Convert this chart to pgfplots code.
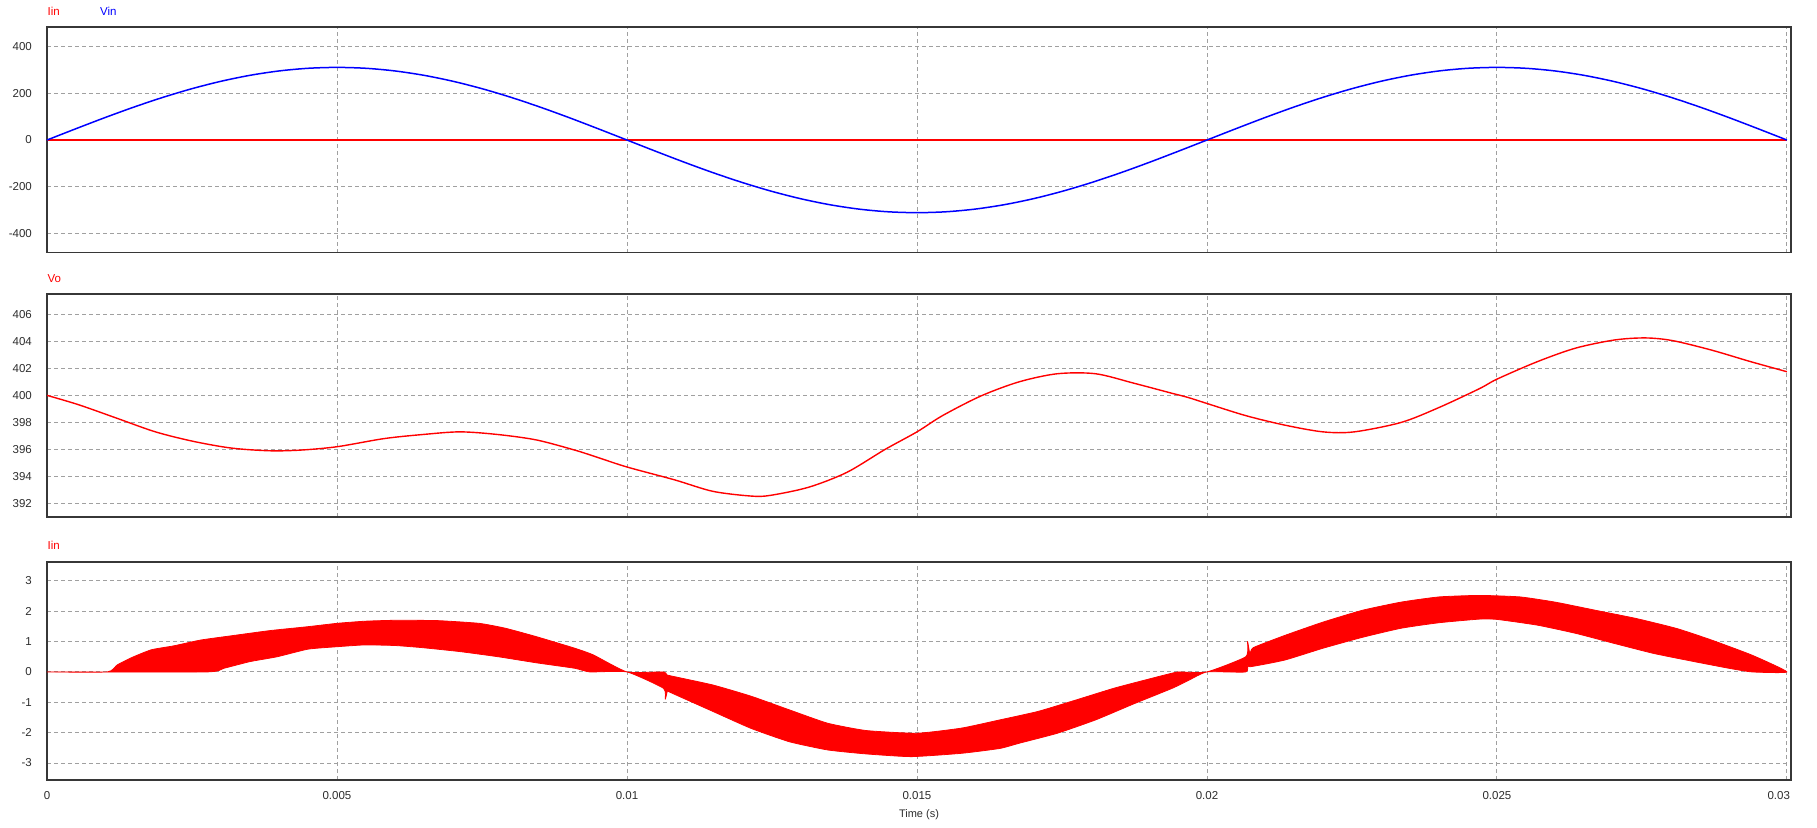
\documentclass[border=0pt]{standalone}
\usepackage{fontspec}
\setmainfont{Liberation Sans}
\usepackage{pgfplots}
\pgfplotsset{compat=1.18}

\definecolor{gridgray}{RGB}{160,160,160}
\definecolor{framegray}{RGB}{55,55,55}
\definecolor{labelgray}{RGB}{45,45,45}
\definecolor{sigred}{RGB}{255,0,0}
\definecolor{sigblue}{RGB}{0,0,255}

\pgfplotsset{
  panel/.style={
    scale only axis,
    width=1744pt,
    anchor=north west,
    xmin=0, xmax=0.03007,
    xtick={0,0.005,0.01,0.015,0.02,0.025,0.03},
    xticklabels={},
    grid=major,
    major grid style={gridgray, line width=0.9pt, dash pattern=on 4pt off 3pt},
    major tick length=0pt,
    axis line style={framegray, line width=1.5pt},
    tick label style={font=\fontsize{11.5}{13}\selectfont, text=labelgray},
    yticklabel style={anchor=east, inner sep=0pt, xshift=-15pt},
    xticklabel style={anchor=north, inner sep=0pt, yshift=-11.5pt},
    /pgf/number format/assume math mode=true,
    scaled ticks=false,
  },
}
\tikzset{ptitle/.style={anchor=west, inner sep=0pt, font=\fontsize{11.5}{13}\selectfont}}

\begin{document}
\begin{tikzpicture}
\useasboundingbox (0,0) rectangle (1817pt,-827pt);

% ---- top panel: Iin and Vin
\node[ptitle, text=sigred] at (47.5pt,-11.7pt) {Iin};
\node[ptitle, text=sigblue] at (100pt,-11.7pt) {Vin};
\begin{axis}[panel, at={(47pt,-27pt)}, height=225.6pt,
  ymin=-482, ymax=484, ytick={-400,-200,0,200,400}]
\addplot[sigred, line width=1.4pt] coordinates {(0,0) (0.03,0)};
\addplot[sigblue, line width=1.5pt, smooth] coordinates {
(0,0) (0.0005,48.6) (0.001,96.1) (0.0015,141.2) (0.002,182.8) (0.0025,219.9)
(0.003,251.6) (0.0035,277.1) (0.004,295.8) (0.0045,307.2) (0.005,311)
(0.0055,307.2) (0.006,295.8) (0.0065,277.1) (0.007,251.6) (0.0075,219.9)
(0.008,182.8) (0.0085,141.2) (0.009,96.1) (0.0095,48.6) (0.01,0)
(0.0105,-48.6) (0.011,-96.1) (0.0115,-141.2) (0.012,-182.8) (0.0125,-219.9)
(0.013,-251.6) (0.0135,-277.1) (0.014,-295.8) (0.0145,-307.2) (0.015,-311)
(0.0155,-307.2) (0.016,-295.8) (0.0165,-277.1) (0.017,-251.6) (0.0175,-219.9)
(0.018,-182.8) (0.0185,-141.2) (0.019,-96.1) (0.0195,-48.6) (0.02,0)
(0.0205,48.6) (0.021,96.1) (0.0215,141.2) (0.022,182.8) (0.0225,219.9)
(0.023,251.6) (0.0235,277.1) (0.024,295.8) (0.0245,307.2) (0.025,311)
(0.0255,307.2) (0.026,295.8) (0.0265,277.1) (0.027,251.6) (0.0275,219.9)
(0.028,182.8) (0.0285,141.2) (0.029,96.1) (0.0295,48.6) (0.03,0)};
\end{axis}

% ---- middle panel: Vo
\node[ptitle, text=sigred] at (47.5pt,-278.3pt) {Vo};
\begin{axis}[panel, at={(47pt,-294pt)}, height=223pt,
  ymin=391, ymax=407.5, ytick={392,394,396,398,400,402,404,406}]
\addplot[sigred, line width=1.4pt, smooth, tension=0.5] coordinates {
(0,400.0) (0.00055,399.3) (0.00121,398.3) (0.00187,397.3) (0.00252,396.6)
(0.00318,396.1) (0.00384,395.9) (0.00437,395.95) (0.005,396.2) (0.00581,396.8)
(0.00647,397.1) (0.00712,397.3) (0.00778,397.1) (0.00844,396.7) (0.0091,395.95)
(0.0095,395.4) (0.01,394.7) (0.01082,393.75) (0.01148,392.9) (0.01214,392.55)
(0.01247,392.6) (0.01313,393.2) (0.01379,394.3) (0.01445,396.0) (0.015,397.3)
(0.01544,398.5) (0.0161,399.95) (0.01676,401.0) (0.01742,401.6) (0.01808,401.6)
(0.01874,400.9) (0.0194,400.15) (0.01967,399.85) (0.02,399.4) (0.02067,398.5)
(0.02134,397.8) (0.022,397.3) (0.02254,397.3) (0.02335,398.0) (0.024,399.1)
(0.0247,400.5) (0.025,401.2) (0.0257,402.5) (0.02636,403.5) (0.02703,404.1)
(0.02756,404.25) (0.02803,404.05) (0.0287,403.35) (0.02937,402.5) (0.03,401.75)};
\end{axis}

% ---- bottom panel: Iin, switching ripple band
% outline: upper envelope left to right, then lower envelope right to left
\node[ptitle, text=sigred] at (47.5pt,-545.7pt) {Iin};
\begin{axis}[panel, at={(47pt,-562pt)}, height=218pt,
  ymin=-3.56, ymax=3.62, ytick={-3,-2,-1,0,1,2,3},
  xticklabels={0,0.005,0.01,0.015,0.02,0.025,\makebox[6pt][r]{0.03}}]
\addplot[sigred, fill=sigred, line width=0.8pt, line join=round, smooth, tension=0.3] coordinates {
(0,0) (0.00104,0) (0.00121,0.23) (0.00147,0.48) (0.0018,0.73) (0.00219,0.86)
(0.00265,1.05) (0.00318,1.19) (0.00384,1.36) (0.0045,1.49) (0.005,1.6)
(0.00548,1.67) (0.006,1.70) (0.00673,1.69) (0.00745,1.6) (0.0079,1.44)
(0.00844,1.16) (0.0091,0.78) (0.00942,0.56) (0.01,0) (0.01063,0)
(0.01068,-0.08) (0.01073,-0.12) (0.01148,-0.43) (0.01214,-0.8) (0.0128,-1.25)
(0.01346,-1.69) (0.01412,-1.93) (0.015,-2.02) (0.01577,-1.85) (0.01643,-1.58)
(0.01709,-1.3) (0.01775,-0.92) (0.01841,-0.53) (0.01907,-0.2) (0.0194,-0.04)
(0.0195,0) (0.02,0) (0.02067,0.5) (0.0207,1.0) (0.02074,0.6) (0.0208,0.8)
(0.02134,1.2) (0.022,1.64) (0.02268,2.03) (0.02335,2.3) (0.024,2.47)
(0.0247,2.52) (0.0254,2.47) (0.026,2.3) (0.0267,2.03) (0.0274,1.76)
(0.0281,1.43) (0.0287,1.05) (0.0294,0.55) (0.03,0)
(0.0294,0) (0.029,0.12) (0.0284,0.34) (0.0277,0.61) (0.027,0.95)
(0.02636,1.27) (0.0257,1.54) (0.025,1.73) (0.0247,1.74) (0.024,1.62)
(0.02335,1.44) (0.02268,1.14) (0.022,0.78) (0.02134,0.39) (0.02074,0.17)
(0.0207,0.3) (0.02067,0) (0.02,0) (0.01967,-0.29) (0.0194,-0.54)
(0.01874,-1.05) (0.01808,-1.58) (0.01742,-2.02) (0.01676,-2.35) (0.01643,-2.52)
(0.01577,-2.68) (0.0149,-2.79) (0.01412,-2.7) (0.01346,-2.57) (0.0128,-2.3)
(0.01214,-1.86) (0.01148,-1.3) (0.01072,-0.65) (0.0107,-0.6) (0.01066,-0.9)
(0.01063,-0.54) (0.01,0) (0.00936,0) (0.0091,0.12) (0.00844,0.3)
(0.00778,0.5) (0.00712,0.67) (0.00647,0.8) (0.006,0.87) (0.00548,0.89)
(0.005,0.83) (0.0045,0.75) (0.00397,0.5) (0.0035,0.34) (0.00305,0.12)
(0.00275,0) (0,0)} -- cycle;
\end{axis}

\node[font=\fontsize{11}{13}\selectfont, text=labelgray] at (919pt,-815pt) {Time (s)};
\end{tikzpicture}
\end{document}
